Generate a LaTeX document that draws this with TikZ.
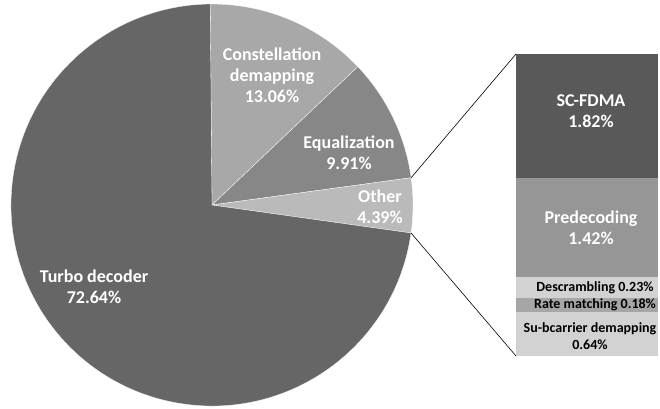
\documentclass[tikz,border=0pt]{standalone}
\usepackage{fontspec}
\setmainfont{Carlito}
\usetikzlibrary{positioning}
\definecolor{turbogray}{HTML}{666666}
\definecolor{constgray}{HTML}{A8A8A8}
\definecolor{equalgray}{HTML}{878787}
\definecolor{othergray}{HTML}{BABABA}
\definecolor{scgray}{HTML}{595959}
\definecolor{pregray}{HTML}{969696}
\definecolor{descgray}{HTML}{D2D2D2}
\definecolor{rategray}{HTML}{A6A6A6}
\definecolor{subgray}{HTML}{D2D2D2}
\tikzset{
        % Pie slices
        pie_slice/.style={draw=white, line width=0.3pt},
        % Labels on the darker fills
        label_light/.style={align=center, inner sep=0pt, text=white, font=\bfseries\fontsize{18}{21}\selectfont},
        % Labels on the lighter fills
        label_dark/.style={align=center, inner sep=0pt, text=black, font=\bfseries\fontsize{14}{17.5}\selectfont},
        % Segments of the bar
        bar_segment/.style={rectangle, inner sep=0pt, outer sep=0pt, minimum width=142pt},
        % Lines from the pie to the bar
        zoom_line/.style={draw=black, line width=0.6pt}
}
\begin{document}
\begin{tikzpicture}[x=1pt, y=1pt]
    \useasboundingbox (0,0) rectangle (660,408);
    \coordinate (centre) at (212,203);
    % Pie
    \foreach \a/\b/\col in {90.5/43.48/constgray, 43.48/7.80/equalgray, 7.80/-8.00/othergray, -8.00/-269.5/turbogray}
        \draw[pie_slice, fill=\col] (centre) -- ++(\a:201) arc[start angle=\a, end angle=\b, radius=201] -- cycle;
    \path (centre) ++(7.80:201) coordinate (other_top);
    \path (centre) ++(-8.00:201) coordinate (other_bottom);
    % Bar
    \node[bar_segment, fill=scgray, minimum height=124pt, anchor=north west] (sc_fdma) at (516,354) {};
    \node[bar_segment, fill=pregray, minimum height=99pt, below=0pt of sc_fdma] (predecoding) {};
    \node[bar_segment, fill=descgray, minimum height=21pt, below=0pt of predecoding] (descrambling) {};
    \node[bar_segment, fill=rategray, minimum height=14pt, below=0pt of descrambling] (rate_matching) {};
    \node[bar_segment, fill=subgray, minimum height=44pt, below=0pt of rate_matching] (subcarrier) {};
    % Zoom lines
    \draw[zoom_line] (other_top) -- (sc_fdma.north west);
    \draw[zoom_line] (other_bottom) -- (subcarrier.south west);
    % Labels
    \node[label_light] (lbl_turbo) at (94,121.5) {Turbo decoder\\72.64\%};
    \node[label_light] (lbl_const) at (272,333) {Constellation\\demapping\\13.06\%};
    \node[label_light] (lbl_equal) at (349,255) {Equalization\\9.91\%};
    \node[label_light] (lbl_other) at (380,201) {Other\\4.39\%};
    \node[label_light] (lbl_sc) at ([xshift=4pt, yshift=4.5pt]sc_fdma.center) {SC-FDMA\\1.82\%};
    \node[label_light] (lbl_pre) at ([xshift=4pt]predecoding.center) {Predecoding\\1.42\%};
    \node[label_dark] (lbl_desc) at ([xshift=8pt]descrambling.center) {Descrambling 0.23\%};
    \node[label_dark] (lbl_rate) at ([xshift=8pt]rate_matching.center) {Rate matching 0.18\%};
    \node[label_dark] (lbl_sub) at ([xshift=3pt, yshift=-2pt]subcarrier.center) {Su-bcarrier demapping\\0.64\%};
\end{tikzpicture}
\end{document}
